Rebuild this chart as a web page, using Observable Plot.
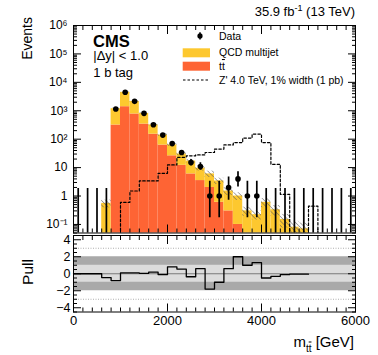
<!DOCTYPE html>
<html><head><meta charset="utf-8">
<script src="https://cdn.jsdelivr.net/npm/d3@7"></script>
<script src="https://cdn.jsdelivr.net/npm/@observablehq/plot@0.6"></script>
<style>
body{margin:0;background:#fff;color:#000;font-family:"Liberation Sans",Arial,sans-serif;}
#wrap{position:relative;width:378px;height:355px;overflow:hidden;background:#fff;}
</style></head><body><div id="wrap"></div>
<script>
// ---- data ----
const binEdges = [0,200,400,600,800,1000,1200,1400,1600,1800,2000,2200,2400,2600,2800,3000,3200,3400,3600,3800,4000,4200,4400,4600,4800,5000,5200,5400,5600,5800,6000];
const dataCounts = [0,0,0,0,1150,4470,2140,810,323,139,70,34,15,11,1,1,2,4,1,1,0,0,0,0,0,0,0,0,0,0];
const ttbar      = [0,0,0,0,315,1390,770,340,150,62,26,12,6,3.5,2.0,0.6,0.3,0.1,0,0,0,0,0,0,0,0,0,0,0,0];
const qcdMultijet= [0,0,0,0.55,865,3060,1360,465,168,78,37,18,11,6,4,2.8,1.2,0.9,0.3,0.22,0.6,0.33,0.15,0.08,0.07,0,0,0,0,0];
const bkgUnc     = [0,0,0,0.3,0.04,0.03,0.04,0.05,0.07,0.1,0.12,0.14,0.16,0.2,0.25,0.25,0.3,0.3,0.35,0.35,0.35,0.4,0.5,0.6,0.6,0,0,0,0,0];
const zprime     = [0,0,0,0,0,0.6,1.5,3.4,3.4,6.3,12.4,23,26,28,34,45,63,76,109,151,76,13,1.15,0,0,0.44,0,0,0,0];
const pullValues = [0,0,0,-0.45,-0.8,0.1,0.1,0.05,0.2,-0.1,0.8,0.55,-0.35,0.6,-1.8,-1.0,0.6,2.0,1.0,1.3,-0.5,-0.3,-0.1,-0.05,-0.05];
const yMajor = [0.1,1,10,100,1e3,1e4,1e5,1e6];
const yTickLabels = ["10\u207B\u00B9","1","10","10\u00B2","10\u00B3","10\u2074","10\u2075","10\u2076"];
const xMajor = [0,2000,4000,6000];
const xTickLabels = ["0","2000","4000","6000"];
const pullMajor = [-4,-2,0,2,4];
const pullTickLabels = ["\u22124","\u22122","0","2","4"];
const sigmaBands = [2,1];
const sigmaLines = [-3,3];
const legendLabels = ["Data","QCD multijet","t","Z' 4.0 TeV, 1% width (1 pb)"];

// ---- helpers ----
const FONT = "'Liberation Sans', Arial, Helvetica, sans-serif";
const ttColor = "#fe6434", qcdColor = "#fdc82f";
const FLOOR = 1e-4;
const xDomain = [0,6000];
const yDomain = [0.05,1e6];
const garwood = {0:[0,1.841],1:[0.173,3.300],2:[0.708,4.638],3:[1.367,5.918],4:[2.086,7.163]};
function poissonErr(n){ if (garwood[n]) return garwood[n]; const s=Math.sqrt(n+0.25); return [n-s+0.5,n+s+0.5]; }

const bins = dataCounts.map((n,i)=>({
  x0: binEdges[i], x1: binEdges[i+1], xm: (binEdges[i]+binEdges[i+1])/2,
  n, tt: ttbar[i], qcd: qcdMultijet[i], unc: bkgUnc[i], sig: zprime[i],
  tot: ttbar[i]+qcdMultijet[i], err: poissonErr(n)
}));
const sigPts = bins.map(d=>({x:d.x0, y: d.sig>0?d.sig:FLOOR})).concat([{x: binEdges[binEdges.length-1], y: FLOOR}]);
const pullPts = pullValues.map((v,i)=>({x: binEdges[i], y: v})).concat([{x: binEdges[pullValues.length], y: pullValues[pullValues.length-1]}]);

const yMinor = [];
for (let e=-2;e<=5;e++) for (let k=2;k<=9;k++){ const v=k*Math.pow(10,e); if (v>=yDomain[0] && v<=yDomain[1]) yMinor.push(v); }
const xMinor = d3.range(200,6000,200).filter(v=>!xMajor.includes(v));
const pullMinor = d3.range(-4.5,4.51,0.5).filter(v=>!pullMajor.includes(v));

function frameTicks(xmaj, xmin, ymaj, ymin){
  const o = {fill:"none", label:null, strokeWidth:1};
  return [
    Plot.axisX({...o, ticks:xmaj, anchor:"bottom", tickSize:-8}),
    Plot.axisX({...o, ticks:xmin, anchor:"bottom", tickSize:-4}),
    Plot.axisX({...o, ticks:xmaj, anchor:"top", tickSize:-8}),
    Plot.axisX({...o, ticks:xmin, anchor:"top", tickSize:-4}),
    Plot.axisY({...o, ticks:ymaj, anchor:"left", tickSize:-8}),
    Plot.axisY({...o, ticks:ymin, anchor:"left", tickSize:-4}),
    Plot.axisY({...o, ticks:ymaj, anchor:"right", tickSize:-8}),
    Plot.axisY({...o, ticks:ymin, anchor:"right", tickSize:-4})
  ];
}

const wrap = document.getElementById("wrap");

// ---- main panel ----
const main = Plot.plot({
  width: 378, height: 235,
  marginTop: 25, marginBottom: 2.5, marginLeft: 73, marginRight: 23,
  style: {position:"absolute", left:"0px", top:"0px", fontFamily: FONT, fontSize:"12px", background:"transparent", overflow:"visible"},
  x: {domain: xDomain},
  y: {type:"log", domain: yDomain},
  marks: [
    Plot.rect(bins.filter(d=>d.tt>0), {x1:"x0", x2:"x1", y1: FLOOR, y2:"tt", fill: ttColor, clip:true}),
    Plot.rect(bins.filter(d=>d.qcd>0), {x1:"x0", x2:"x1", y1: d=>d.tt>0?d.tt:FLOOR, y2:"tot", fill: qcdColor, clip:true}),
    Plot.rect(bins.filter(d=>d.unc>0), {x1:"x0", x2:"x1", y1: d=>d.tot*(1-d.unc), y2: d=>d.tot*(1+d.unc), fill:"url(#hatch)", clip:true}),
    Plot.line(sigPts, {x:"x", y:"y", curve:"step-after", stroke:"black", strokeWidth:1.2, strokeDasharray:"2.5,2", clip:true}),
    Plot.ruleX(bins, {x:"xm", y1: d=>Math.max(d.err[0],FLOOR), y2: d=>d.err[1], stroke:"black", strokeWidth:1.7, clip:true}),
    Plot.dot(bins.filter(d=>d.n>0), {x:"xm", y:"n", r:2.8, fill:"black", stroke:"none"}),
    ...frameTicks(xMajor, xMinor, yMajor, yMinor),
    Plot.axisY({ticks:yMajor, anchor:"left", tickSize:0, tickPadding:6, label:null, fontSize:12,
      tickFormat: d=>yTickLabels[yMajor.indexOf(d)]}),
    Plot.frame({stroke:"black", strokeWidth:1})
  ]
});
// hatch pattern
const NS = "http://www.w3.org/2000/svg";
const defs = document.createElementNS(NS,"defs");
const pat = document.createElementNS(NS,"pattern");
pat.setAttribute("id","hatch"); pat.setAttribute("patternUnits","userSpaceOnUse");
pat.setAttribute("width","3.2"); pat.setAttribute("height","3.2");
pat.setAttribute("patternTransform","rotate(-45)");
const pl = document.createElementNS(NS,"line");
pl.setAttribute("x1","0"); pl.setAttribute("y1","0"); pl.setAttribute("x2","0"); pl.setAttribute("y2","3.2");
pl.setAttribute("stroke","#5a5a5a"); pl.setAttribute("stroke-width","1");
pat.appendChild(pl); defs.appendChild(pat); main.insertBefore(defs, main.firstChild);
wrap.appendChild(main);

// ---- pull panel ----
const bandColors = ["#a9a9a9","#dcdcdc"];
const pull = Plot.plot({
  width: 378, height: 122,
  marginTop: 2, marginBottom: 43.5, marginLeft: 73, marginRight: 23,
  style: {position:"absolute", left:"0px", top:"233px", fontFamily: FONT, fontSize:"12px", background:"transparent", overflow:"visible"},
  x: {domain: xDomain},
  y: {domain: [-4.5,4.5]},
  marks: [
    ...sigmaBands.map((s,i)=>Plot.rect([s], {x1: ()=>xDomain[0], x2: ()=>xDomain[1], y1: d=>-d, y2: d=>d, fill: bandColors[i]})),
    Plot.ruleY(sigmaLines, {stroke:"#9a9a9a", strokeWidth:0.8, strokeDasharray:"1,1.5"}),
    Plot.ruleY([0], {stroke:"#7a7a7a", strokeWidth:1}),
    Plot.line(pullPts, {x:"x", y:"y", curve:"step-after", stroke:"black", strokeWidth:1.3}),
    ...frameTicks(xMajor, xMinor, pullMajor, pullMinor),
    Plot.axisY({ticks:pullMajor, anchor:"left", tickSize:0, tickPadding:3, label:null, fontSize:12.5,
      tickFormat: d=>pullTickLabels[pullMajor.indexOf(d)]}),
    Plot.axisX({ticks:xMajor, anchor:"bottom", tickSize:0, tickPadding:4, label:null, fontSize:13,
      tickFormat: d=>xTickLabels[xMajor.indexOf(d)]}),
    Plot.frame({stroke:"black", strokeWidth:1})
  ]
});
wrap.appendChild(pull);

// ---- annotations / legend ----
const ov = d3.create("svg").attr("width",378).attr("height",355)
  .style("position","absolute").style("left","0px").style("top","0px")
  .style("font-family", FONT).style("overflow","visible");
// lumi title
const t1 = ov.append("text").attr("x",355).attr("y",16).attr("text-anchor","end").attr("font-size",13);
t1.append("tspan").text("35.9 fb");
t1.append("tspan").attr("font-size",9).attr("dy",-5).text("-1");
t1.append("tspan").attr("dy",5).text(" (13 TeV)");
// CMS labels
ov.append("text").attr("x",93).attr("y",46.5).attr("font-size",16.5).attr("font-weight","bold").text("CMS");
ov.append("text").attr("x",93.3).attr("y",60).attr("font-size",13).text("|\u0394y| < 1.0");
ov.append("text").attr("x",93.3).attr("y",77).attr("font-size",13).text("1 b tag");
// legend
const lx = 219;
ov.append("line").attr("x1",200).attr("x2",200).attr("y1",32.3).attr("y2",39.5).attr("stroke","black").attr("stroke-width",1.5);
ov.append("circle").attr("cx",200).attr("cy",35.9).attr("r",2.6).attr("fill","black");
ov.append("rect").attr("x",182.7).attr("y",48.3).attr("width",27.3).attr("height",9).attr("fill",qcdColor);
ov.append("rect").attr("x",182.7).attr("y",61.7).attr("width",27.3).attr("height",9).attr("fill",ttColor);
ov.append("line").attr("x1",183).attr("x2",210).attr("y1",80).attr("y2",80).attr("stroke","black").attr("stroke-width",1.2).attr("stroke-dasharray","2.5,2");
[39.5,56,70,83.8].forEach((y,i)=>{
  const t = ov.append("text").attr("x",lx).attr("y",y).attr("font-size",10.5);
  t.append("tspan").text(legendLabels[i]);
  if (i===2) t.append("tspan").attr("text-decoration","overline").text("t");
});
// axis titles
ov.append("text").attr("transform","translate(31.5,17) rotate(-90)").attr("text-anchor","end").attr("font-size",14).text("Events");
ov.append("text").attr("transform","translate(33.3,272) rotate(-90)").attr("text-anchor","middle").attr("font-size",15.5).text("Pull");
const xt = ov.append("text").attr("x",354).attr("y",346.5).attr("text-anchor","end").attr("font-size",15);
xt.append("tspan").text("m");
xt.append("tspan").attr("font-size",10).attr("dy",5).text("t");
xt.append("tspan").attr("font-size",10).attr("text-decoration","overline").text("t");
xt.append("tspan").attr("dy",-5).text(" [GeV]");
wrap.appendChild(ov.node());
</script></body></html>
